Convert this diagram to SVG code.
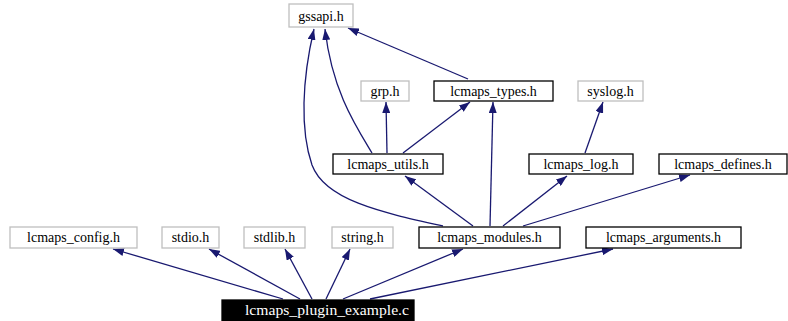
<svg xmlns="http://www.w3.org/2000/svg" width="788" height="321" viewBox="0 0 788 321">
<style>
  .n rect { fill: #ffffff; stroke-width: 1.3; }
  .g rect { stroke: #bfbfbf; }
  .b rect { stroke: #000000; }
  .n text { font-family: "Liberation Serif", "Times New Roman", serif; font-size: 14px; text-anchor: middle; fill: #000000; }
  .r rect { fill: #000000; stroke: #000000; }
  .r text { fill: #ffffff; }
  .e path { fill: none; stroke: #191970; stroke-width: 1.3; marker-end: url(#ah); }
</style>
<defs>
  <marker id="ah" markerUnits="userSpaceOnUse" markerWidth="11" markerHeight="8" viewBox="0 0 11 8" refX="11" refY="4" orient="auto">
    <path d="M0,0 L11,4 L0,8 z" fill="#191970"/>
  </marker>
</defs>
<rect width="788" height="321" fill="#ffffff"/>
<g id="edges" class="e">
  <path d="M283,299 L113,249"/>
  <path d="M300,299 L209,249"/>
  <path d="M312,299 L285,249"/>
  <path d="M326,299 L350,249"/>
  <path d="M343,299 L463,249"/>
  <path d="M370,299 L613,249"/>
  <path d="M473,226 L405,176"/>
  <path d="M490,226 L493,102"/>
  <path d="M503,226 L567,176"/>
  <path d="M523,226 L690,175"/>
  <path d="M443,226 C380,212 325,200 312,165 C300,130 302,80 314,29"/>
  <path d="M372,153 C355,125 332,90 325,29"/>
  <path d="M387,153 L386,102"/>
  <path d="M403,153 L470,102"/>
  <path d="M468,79 L348,28"/>
  <path d="M585,153 L603,102"/>
</g>
<g id="gssapi" class="n g"><rect x="289" y="4" width="64" height="23"/><text x="321" y="21">gssapi.h</text></g>
<g id="grp" class="n g"><rect x="361" y="81" width="48" height="20"/><text x="385" y="96">grp.h</text></g>
<g id="lcmaps_types" class="n b"><rect x="434" y="81" width="119" height="20"/><text x="493.5" y="96">lcmaps_types.h</text></g>
<g id="syslog" class="n g"><rect x="578" y="81" width="65" height="20"/><text x="610.5" y="96">syslog.h</text></g>
<g id="lcmaps_utils" class="n b"><rect x="333" y="154" width="110" height="20"/><text x="388" y="169">lcmaps_utils.h</text></g>
<g id="lcmaps_log" class="n b"><rect x="529" y="154" width="104" height="20"/><text x="581" y="169">lcmaps_log.h</text></g>
<g id="lcmaps_defines" class="n b"><rect x="659" y="154" width="128" height="20"/><text x="723" y="169">lcmaps_defines.h</text></g>
<g id="lcmaps_config" class="n g"><rect x="10" y="227" width="127" height="21"/><text x="73.5" y="242">lcmaps_config.h</text></g>
<g id="stdio" class="n g"><rect x="162" y="227" width="57" height="21"/><text x="190.5" y="242">stdio.h</text></g>
<g id="stdlib" class="n g"><rect x="244" y="227" width="61" height="21"/><text x="274.5" y="242">stdlib.h</text></g>
<g id="string" class="n g"><rect x="332" y="227" width="61" height="21"/><text x="362.5" y="242">string.h</text></g>
<g id="lcmaps_modules" class="n b"><rect x="419" y="227" width="141" height="21"/><text x="489.5" y="242">lcmaps_modules.h</text></g>
<g id="lcmaps_arguments" class="n b"><rect x="586" y="227" width="155" height="21"/><text x="663.5" y="242">lcmaps_arguments.h</text></g>
<g id="lcmaps_plugin_example" class="n r"><rect x="222" y="300" width="192" height="21"/><text x="327" y="315" textLength="164" lengthAdjust="spacingAndGlyphs">lcmaps_plugin_example.c</text></g>
</svg>
